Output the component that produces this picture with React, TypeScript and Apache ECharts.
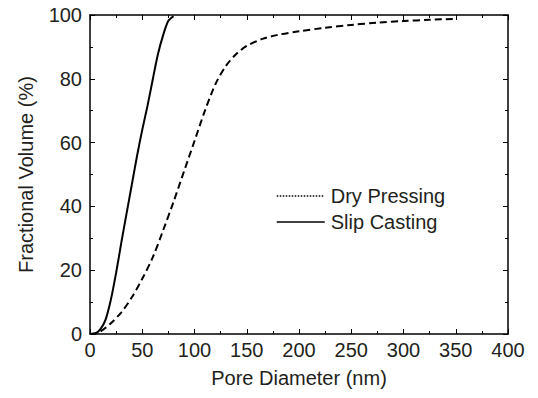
import React, { useEffect, useRef } from "react";
import * as echarts from "echarts";

// Pore diameter (nm) and cumulative fractional volume (%)
const dryPressingDiameter = [0, 5, 10, 20, 30, 40, 50, 60, 70, 80, 90, 100, 110, 120, 130, 140, 150, 165, 180, 200, 225, 250, 275, 300, 325, 350];
const dryPressingVolume = [0, 0.2, 0.8, 3.4, 6.8, 11.5, 17.3, 24, 32.5, 41.5, 51, 60.5, 70, 78.3, 84, 87.8, 90.3, 92.5, 93.8, 94.9, 96, 96.9, 97.6, 98.1, 98.5, 98.8];

const slipCastingDiameter = [0, 5, 10, 15, 20, 25, 30, 35, 40, 45, 50, 55, 60, 65, 70, 75, 80];
const slipCastingVolume = [0, 0.15, 1.5, 4.6, 10.8, 19.2, 28.7, 37.8, 46.8, 55.8, 64, 71.5, 79.7, 87.7, 93.7, 98.2, 99.6];

const xTicks = [0, 400, 50];
const yTicks = [0, 100, 20];

const seriesNames = ["Dry Pressing", "Slip Casting"];

const FONT = "'Liberation Sans', Arial, Helvetica, sans-serif";
const TEXT = "#231f20";

function pairs(xs: number[], ys: number[]) {
  return xs.map((x, i) => [x, ys[i]]);
}

export default function App() {
  const ref = useRef<HTMLDivElement>(null);

  useEffect(() => {
    if (!ref.current) return;
    const chart = echarts.init(ref.current, undefined, { renderer: "svg" });

    const axisLine = { show: true, onZero: false, lineStyle: { color: "#000", width: 1.5 } };
    const xBase = {
      type: "value" as const,
      min: xTicks[0],
      max: xTicks[1],
      interval: xTicks[2],
      splitLine: { show: false },
      axisLine,
      axisTick: { show: true, inside: true, length: 5, lineStyle: { color: "#000", width: 1 } },
      minorTick: { show: true, splitNumber: 2, length: 3, lineStyle: { color: "#000", width: 1 } },
    };
    const yBase = {
      type: "value" as const,
      min: yTicks[0],
      max: yTicks[1],
      interval: yTicks[2],
      splitLine: { show: false },
      axisLine,
      axisTick: { show: true, inside: true, length: 5, lineStyle: { color: "#000", width: 1 } },
      minorTick: { show: true, splitNumber: 2, length: 3, lineStyle: { color: "#000", width: 1 } },
    };

    chart.setOption({
      animation: false,
      backgroundColor: "#fff",
      textStyle: { fontFamily: FONT },
      grid: { left: 90, right: 30, top: 15, bottom: 64, containLabel: false },
      legend: {
        orient: "vertical",
        left: 271,
        top: 181,
        itemWidth: 48,
        itemHeight: 14,
        itemGap: 6,
        itemStyle: { color: "transparent", borderWidth: 0, opacity: 0 },
        textStyle: { fontSize: 20, color: TEXT, fontFamily: FONT, padding: [0, 0, 0, 1] },
        data: [
          { name: seriesNames[0], lineStyle: { type: "dotted", width: 1.5, color: "#000" } },
          { name: seriesNames[1], lineStyle: { type: "solid", width: 1.5, color: "#000" } },
        ],
      },
      xAxis: [
        {
          ...xBase,
          position: "bottom",
          name: "Pore Diameter (nm)",
          nameLocation: "middle",
          nameGap: 34,
          nameTextStyle: { fontSize: 20, color: TEXT, fontFamily: FONT },
          axisLabel: { fontSize: 20, color: TEXT, margin: 6, fontFamily: FONT },
        },
        {
          ...xBase,
          position: "top",
          axisLabel: { show: false },
        },
      ],
      yAxis: [
        {
          ...yBase,
          position: "left",
          name: "Fractional Volume (%)",
          nameLocation: "middle",
          nameGap: 54,
          nameTextStyle: { fontSize: 20, color: TEXT, fontFamily: FONT },
          axisLabel: { fontSize: 20, color: TEXT, margin: 8, fontFamily: FONT },
        },
        {
          ...yBase,
          position: "right",
          axisLabel: { show: false },
        },
      ],
      series: [
        {
          name: seriesNames[0],
          type: "line",
          xAxisIndex: 0,
          yAxisIndex: 0,
          data: pairs(dryPressingDiameter, dryPressingVolume),
          showSymbol: false,
          symbol: "none",
          smooth: 0.3,
          lineStyle: { color: "#000", width: 2, type: [7, 4] },
          itemStyle: { color: "#000" },
        },
        {
          name: seriesNames[1],
          type: "line",
          xAxisIndex: 0,
          yAxisIndex: 0,
          data: pairs(slipCastingDiameter, slipCastingVolume),
          showSymbol: false,
          symbol: "none",
          smooth: 0.3,
          lineStyle: { color: "#000", width: 2, type: "solid" },
          itemStyle: { color: "#000" },
        },
      ],
    });

    return () => chart.dispose();
  }, []);

  return <div ref={ref} style={{ width: 538, height: 398, margin: -8 }} />;
}
